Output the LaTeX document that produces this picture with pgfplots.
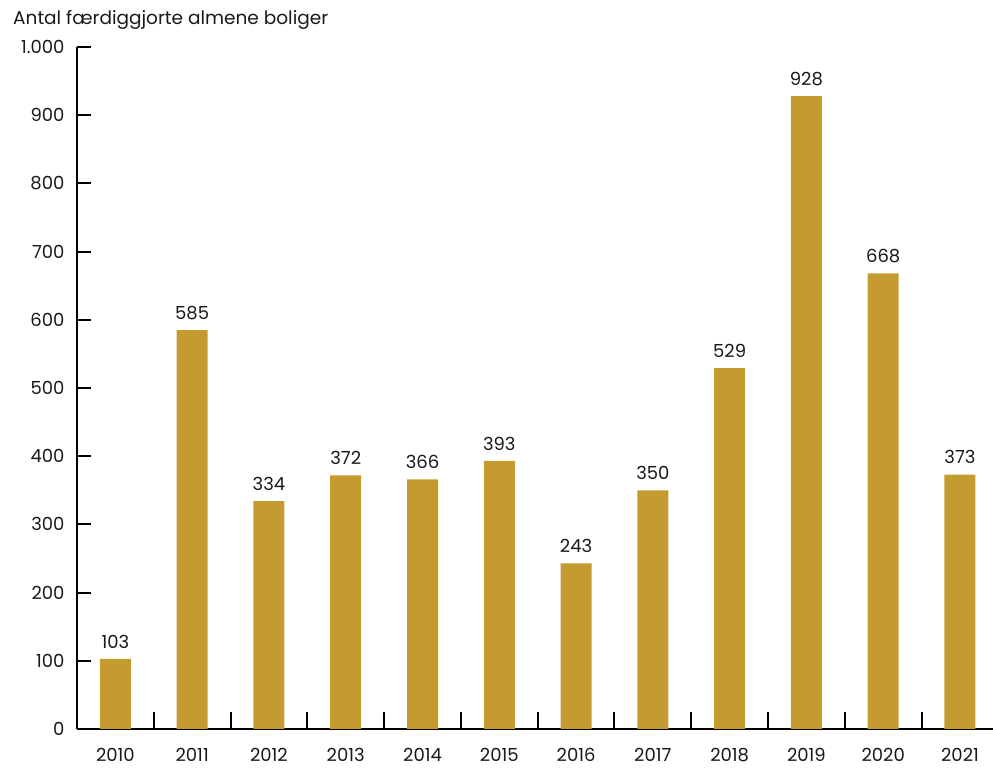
\documentclass[border=0pt]{standalone}
\usepackage{pgfplots}
\pgfplotsset{compat=1.18}
\usepackage{fontspec}
\setmainfont{Poppins}
\definecolor{barcol}{RGB}{196,155,46}
\begin{document}
\begin{tikzpicture}
\useasboundingbox (-77pt,-39pt) rectangle (916pt,729pt);
\begin{axis}[
  at={(0pt,0pt)}, anchor=south west,
  scale only axis, width=916pt, height=682pt,
  xmin=-0.5, xmax=11.43, ymin=0, ymax=1000,
  axis lines*=left,
  axis line style={line width=2pt, black},
  clip=false,
  /pgf/number format/assume math mode=true,
  /pgf/number format/1000 sep={.},
  ytick={0,100,...,1000},
  xtick={0,...,11},
  xticklabels={2010,2011,2012,2013,2014,2015,2016,2017,2018,2019,2020,2021},
  tick align=inside,
  major tick length=14pt,
  every tick/.style={line width=2pt, black},
  major x tick style={draw=none},
  ticklabel style={font=\fontsize{18}{21}\selectfont, text=black!90},
  yticklabel style={xshift=-9pt},
  xticklabel style={inner sep=0pt, yshift=-5pt},
  ybar, bar width=31pt,
  nodes near coords,
  every node near coord/.append style={font=\fontsize{18}{21}\selectfont, text=black!90, yshift=7pt},
]
\addplot[fill=barcol, draw=none] coordinates {
 (0,103) (1,585) (2,334) (3,372) (4,366) (5,393)
 (6,243) (7,350) (8,529) (9,928) (10,668) (11,373)};
\pgfplotsinvokeforeach{0.5,1.5,2.5,3.5,4.5,5.5,6.5,7.5,8.5,9.5,10.5}{
  \draw[line width=2pt, black] (axis cs:#1,0) -- ++(0pt,17pt);
}
\node[anchor=base west, inner sep=0pt, font=\fontsize{18.5}{22}\selectfont, text=black!90]
  at ([xshift=-64pt, yshift=22pt]rel axis cs:0,1) {Antal færdiggjorte almene boliger};
\end{axis}
\end{tikzpicture}
\end{document}
